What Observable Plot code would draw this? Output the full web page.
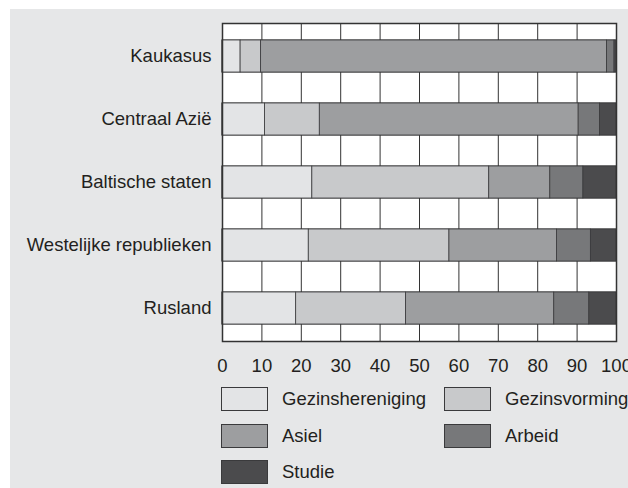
<!DOCTYPE html>
<html>
<head>
<meta charset="utf-8">
<script src="https://cdn.jsdelivr.net/npm/d3@7"></script>
<script src="https://cdn.jsdelivr.net/npm/@observablehq/plot@0.6"></script>
<style>
  html, body { margin: 0; padding: 0; background: #ffffff; }
  body { width: 628px; height: 488px; position: relative; overflow: hidden; font-family: "Liberation Sans", Arial, sans-serif; }
  #panel { position: absolute; left: 10px; top: 9px; right: 0; bottom: 0; background: #e6e7e8; }
  #chart { position: absolute; left: 0; top: 0; }
  .sw { position: absolute; width: 45px; height: 22px; border: 1px solid #3a3a3c; }
  .lb { position: absolute; font-size: 18.5px; color: #231f20; line-height: 24px; white-space: nowrap; }
</style>
</head>
<body>
<div id="panel"></div>
<div id="chart"></div>
<div id="legend"></div>
<script>
const regions = ["Kaukasus", "Centraal Azië", "Baltische staten", "Westelijke republieken", "Rusland"];
const motives = ["Gezinshereniging", "Gezinsvorming", "Asiel", "Arbeid", "Studie"];
const gezinshereniging = [4.6, 10.8, 22.8, 21.9, 18.7];
const gezinsvorming   = [5.2, 13.9, 44.9, 35.7, 27.9];
const asiel           = [87.8, 65.7, 15.5, 27.3, 37.6];
const arbeid          = [1.9, 5.4, 8.4, 8.6, 8.9];
const studie          = [0.5, 4.2, 8.4, 6.5, 6.9];
const xTicks = [0, 10, 20, 30, 40, 50, 60, 70, 80, 90, 100];
const colors = ["#e3e4e6", "#c8c9cb", "#9d9ea0", "#77787a", "#4b4b4d"];

const series = [gezinshereniging, gezinsvorming, asiel, arbeid, studie];
const data = [];
regions.forEach((r, i) => motives.forEach((m, j) => data.push({region: r, motive: m, value: series[j][i]})));

const chart = Plot.plot({
  width: 628,
  height: 380,
  marginLeft: 222,
  marginRight: 12,
  marginTop: 23,
  marginBottom: 39,
  style: {background: "transparent", fontSize: "18.5px", fontFamily: "'Liberation Sans', Arial, sans-serif", color: "#231f20", overflow: "hidden"},
  x: {domain: [0, 100], ticks: xTicks, tickSize: 0, tickPadding: 17, label: null},
  y: {domain: regions, paddingInner: 0.5, paddingOuter: 0.25, tickSize: 0, tickPadding: 11, label: null},
  color: {domain: motives, range: colors},
  marks: [
    Plot.frame({fill: "white"}),
    Plot.ruleX(xTicks.slice(1, -1), {stroke: "#333", strokeWidth: 1}),
    Plot.barX(regions, {x1: 0, x2: 100, y: d => d, fill: "white", stroke: "#333", strokeWidth: 1}),
    Plot.barX(data, Plot.stackX({x: "value", y: "region", fill: "motive", order: motives, stroke: "#3a3a3c", strokeWidth: 0.8})),
    Plot.frame({stroke: "#333", strokeWidth: 1.5})
  ]
});
document.getElementById("chart").appendChild(chart);

const legend = document.getElementById("legend");
const pos = [
  {sx: 221, tx: 282, y: 387},
  {sx: 444, tx: 505, y: 387},
  {sx: 221, tx: 282, y: 424},
  {sx: 444, tx: 505, y: 424},
  {sx: 221, tx: 282, y: 460}
];
motives.forEach((m, i) => {
  const p = pos[i];
  const s = document.createElement("div");
  s.className = "sw";
  s.style.left = p.sx + "px";
  s.style.top = p.y + "px";
  s.style.background = colors[i];
  legend.appendChild(s);
  const t = document.createElement("div");
  t.className = "lb";
  t.style.left = p.tx + "px";
  t.style.top = p.y + "px";
  t.textContent = m;
  legend.appendChild(t);
});
</script>
</body>
</html>
